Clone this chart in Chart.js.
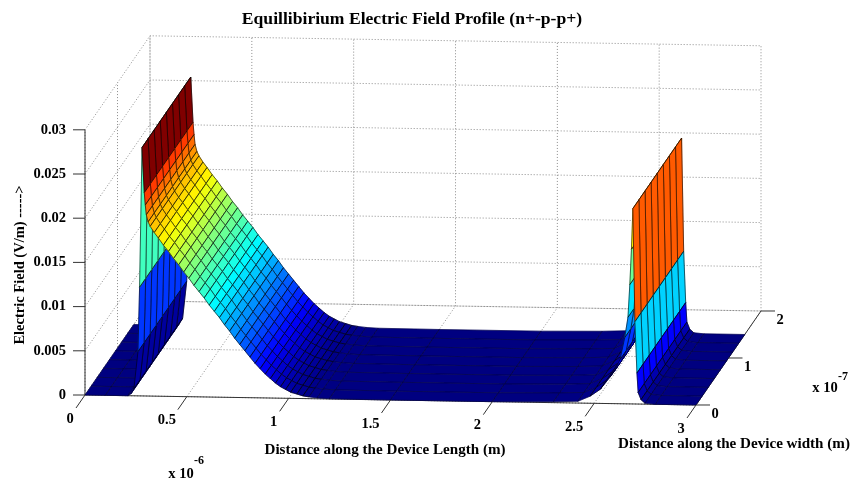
<!DOCTYPE html>
<html>
<head>
<meta charset="utf-8">
<title>Equillibirium Electric Field Profile</title>
<script src="https://cdn.jsdelivr.net/npm/chart.js@4"></script>
<style>
    body { margin: 0; background: #fff; }
    canvas { display: block; }
</style>
</head>
<body>
<canvas id="chartField" width="853" height="478"></canvas>
<script>
// tick labels
const lengthTicks = [0, 0.5, 1, 1.5, 2, 2.5, 3];      // x 10^-6 m
const widthTicks = [0, 1, 2];                         // x 10^-7 m
const fieldTicks = [0, 0.005, 0.01, 0.015, 0.02, 0.025, 0.03];

// mesh
const widthMesh = [0, 0.1875, 0.375, 0.5625, 0.75, 0.9375, 1.125, 1.3125, 1.5];
const lengthMesh = [
    0, 0.1, 0.21, 0.225, 0.24, 0.26, 0.268, 0.28,
    0.291, 0.296, 0.301, 0.31, 0.32,
    0.34, 0.36, 0.385, 0.41, 0.435, 0.46, 0.485, 0.51, 0.535, 0.56, 0.585,
    0.61, 0.635, 0.66, 0.685, 0.71, 0.735, 0.76, 0.785, 0.81, 0.835, 0.86,
    0.885, 0.91, 0.935, 0.96, 0.985, 1.01, 1.04, 1.07, 1.1, 1.14, 1.2,
    1.5, 2.0, 2.3, 2.42, 2.48, 2.53, 2.578, 2.6, 2.627, 2.65, 2.666, 2.675, 2.683,
    2.69, 2.7, 2.71, 2.716, 2.73, 2.75, 2.8, 3
];
const fieldProfile = [
    0, 0, 0, 0.0002, 0.0008, 0.005, 0.0123, 0.0281,
    0.023, 0.0216, 0.0205, 0.0197, 0.0192,
    0.0185, 0.0179, 0.0171, 0.0164, 0.0156, 0.0149, 0.0141, 0.0134, 0.0126, 0.0119, 0.0112,
    0.0104, 0.0097, 0.009, 0.0082, 0.0075, 0.0067, 0.006, 0.0053, 0.0046, 0.0039, 0.0033,
    0.0027, 0.0022, 0.0017, 0.0013, 0.001, 0.0007, 0.0005, 0.0003, 0.0002, 0.0001, 0.00003,
    0, 0, 0.0001, 0.0002, 0.0008, 0.0016, 0.003, 0.0037, 0.005, 0.0075, 0.0098, 0.0135, 0.0175,
    0.0221, 0.0093, 0.0035, 0.0013, 0.0005, 0.0001, 0, 0
];
const fieldMax = 0.0281;

// fixed 3d view, the original plot has almost no perspective
function project(x, y, z) {
    return {
        x: 85 + 203.67 * x + 32.5 * y,
        y: 395 + 3.33 * x - 47 * y - 8840 * z
    };
}

function jet(t) {
    const c = v => Math.round(255 * Math.min(1, Math.max(0, 1.5 - Math.abs(4 * t - v))));
    return 'rgb(' + c(3) + ',' + c(2) + ',' + c(1) + ')';
}

function lineSet(points, color, dash, width) {
    return {
        data: points, borderColor: color, borderDash: dash, borderWidth: width,
        pointRadius: 0, fill: false, tension: 0
    };
}

const gridColor = '#8c8c8c';
const dots = [1, 2];
const axisColor = '#333';
const lengthEnd = lengthTicks[lengthTicks.length - 1];
const widthEnd = widthTicks[widthTicks.length - 1];
const fieldEnd = fieldTicks[fieldTicks.length - 1];

// painter order, far things first
const painted = [];
fieldTicks.forEach(function (z) {
    painted.push(lineSet([project(0, 0, z), project(0, widthEnd, z), project(lengthEnd, widthEnd, z)], gridColor, dots, 1));
});
lengthTicks.forEach(function (x) {
    painted.push(lineSet([project(x, 0, 0), project(x, widthEnd, 0), project(x, widthEnd, fieldEnd)], gridColor, dots, 1));
});
widthTicks.forEach(function (y) {
    painted.push(lineSet([project(lengthEnd, y, 0), project(0, y, 0), project(0, y, fieldEnd)], gridColor, dots, 1));
});

// axes
painted.push(lineSet([project(0, 0, 0), project(lengthEnd, 0, 0), project(lengthEnd, widthEnd, 0)], axisColor, [], 1));
painted.push(lineSet([project(0, 0, 0), project(0, 0, fieldEnd)], axisColor, [], 1));

// surface, flat colour taken from the first corner of each cell
for (let i = 0; i < lengthMesh.length - 1; i++) {
    for (let j = widthMesh.length - 2; j >= 0; j--) {
        const x0 = lengthMesh[i], x1 = lengthMesh[i + 1];
        const y0 = widthMesh[j], y1 = widthMesh[j + 1];
        const z0 = fieldProfile[i], z1 = fieldProfile[i + 1];
        const a = project(x0, y0, z0), b = project(x1, y0, z1);
        const c = project(x1, y1, z1), d = project(x0, y1, z0);
        const color = jet(z0 / fieldMax);
        painted.push({
            data: [a, b, c, d, a],
            backgroundColor: color,
            borderColor: color,
            fill: 'shape',
            borderWidth: 0.6,
            pointRadius: 0,
            tension: 0
        });
        // the mesh lines hardly show on the dark floor
        const meshAlpha = z0 < 0.0003 ? 0.35 : 0.75;
        painted.push(lineSet([b, c], 'rgba(0,0,0,' + meshAlpha + ')', [], 1));
        painted.push(lineSet([a, d], 'rgba(0,0,0,' + meshAlpha + ')', [], 1));
        painted.push(lineSet([a, b], 'rgba(0,0,0,' + meshAlpha + ')', [], 0.8));
        painted.push(lineSet([d, c], 'rgba(0,0,0,' + meshAlpha + ')', [], 0.8));
    }
}

// chart.js paints the first dataset last
const datasets = painted.slice().reverse();

const textPlugin = {
    id: 'textPlugin',
    afterDraw: function (chart) {
        const ctx = chart.ctx;
        const xs = chart.scales.x, ys = chart.scales.y;
        const serif = '"Liberation Serif", serif';
        function label(text, x, y, font, align) {
            ctx.font = font;
            ctx.textAlign = align || 'center';
            ctx.textBaseline = 'middle';
            ctx.fillStyle = '#000';
            ctx.fillText(text, x, y);
        }
        function tick(p, dx, dy) {
            const x = xs.getPixelForValue(p.x), y = ys.getPixelForValue(p.y);
            ctx.beginPath();
            ctx.moveTo(x, y);
            ctx.lineTo(x + dx, y + dy);
            ctx.strokeStyle = '#333';
            ctx.lineWidth = 1;
            ctx.stroke();
            return { x: x, y: y };
        }
        const tickFont = 'bold 14.5px ' + serif;
        lengthTicks.forEach(function (v) {
            const p = tick(project(v, 0, 0), -9, 13);
            label(String(v), p.x - (Number.isInteger(v) ? 15 : 20), p.y + 24, tickFont);
        });
        widthTicks.forEach(function (v) {
            const p = tick(project(lengthEnd, v, 0), 14, 0);
            label(String(v), p.x + 19, p.y + 9.5, tickFont);
        });
        fieldTicks.forEach(function (v) {
            const p = tick(project(0, 0, v), -12, 0);
            label(String(v), p.x - 19, p.y, tickFont, 'right');
        });

        label('Equillibirium Electric Field Profile (n+-p-p+)', 412, 19, 'bold 17.6px ' + serif);
        const axisFont = 'bold 15.1px ' + serif;
        label('Distance along the Device Length (m)', 385, 450, axisFont);
        label('Distance along the Device width (m)', 734, 444, axisFont);
        label('x 10', 181, 474, tickFont);
        label('-6', 199, 461, 'bold 12px ' + serif);
        label('x 10', 825, 388, tickFont);
        label('-7', 843, 377, 'bold 12px ' + serif);

        ctx.save();
        ctx.translate(20, 265);
        ctx.rotate(-Math.PI / 2);
        label('Electric Field (V/m) ----->', 0, 0, 'bold 14.5px ' + serif);
        ctx.restore();
    }
};

const myChart = new Chart(document.getElementById('chartField').getContext('2d'), {
    type: 'line',
    data: { datasets: datasets },
    plugins: [textPlugin],
    options: {
        responsive: false,
        animation: false,
        events: [],
        layout: { padding: 0 },
        plugins: { legend: { display: false }, tooltip: { enabled: false } },
        scales: {
            x: { type: 'linear', min: 0, max: 853, display: false },
            y: { type: 'linear', min: 0, max: 478, reverse: true, display: false }
        }
    }
});
</script>
</body>
</html>
